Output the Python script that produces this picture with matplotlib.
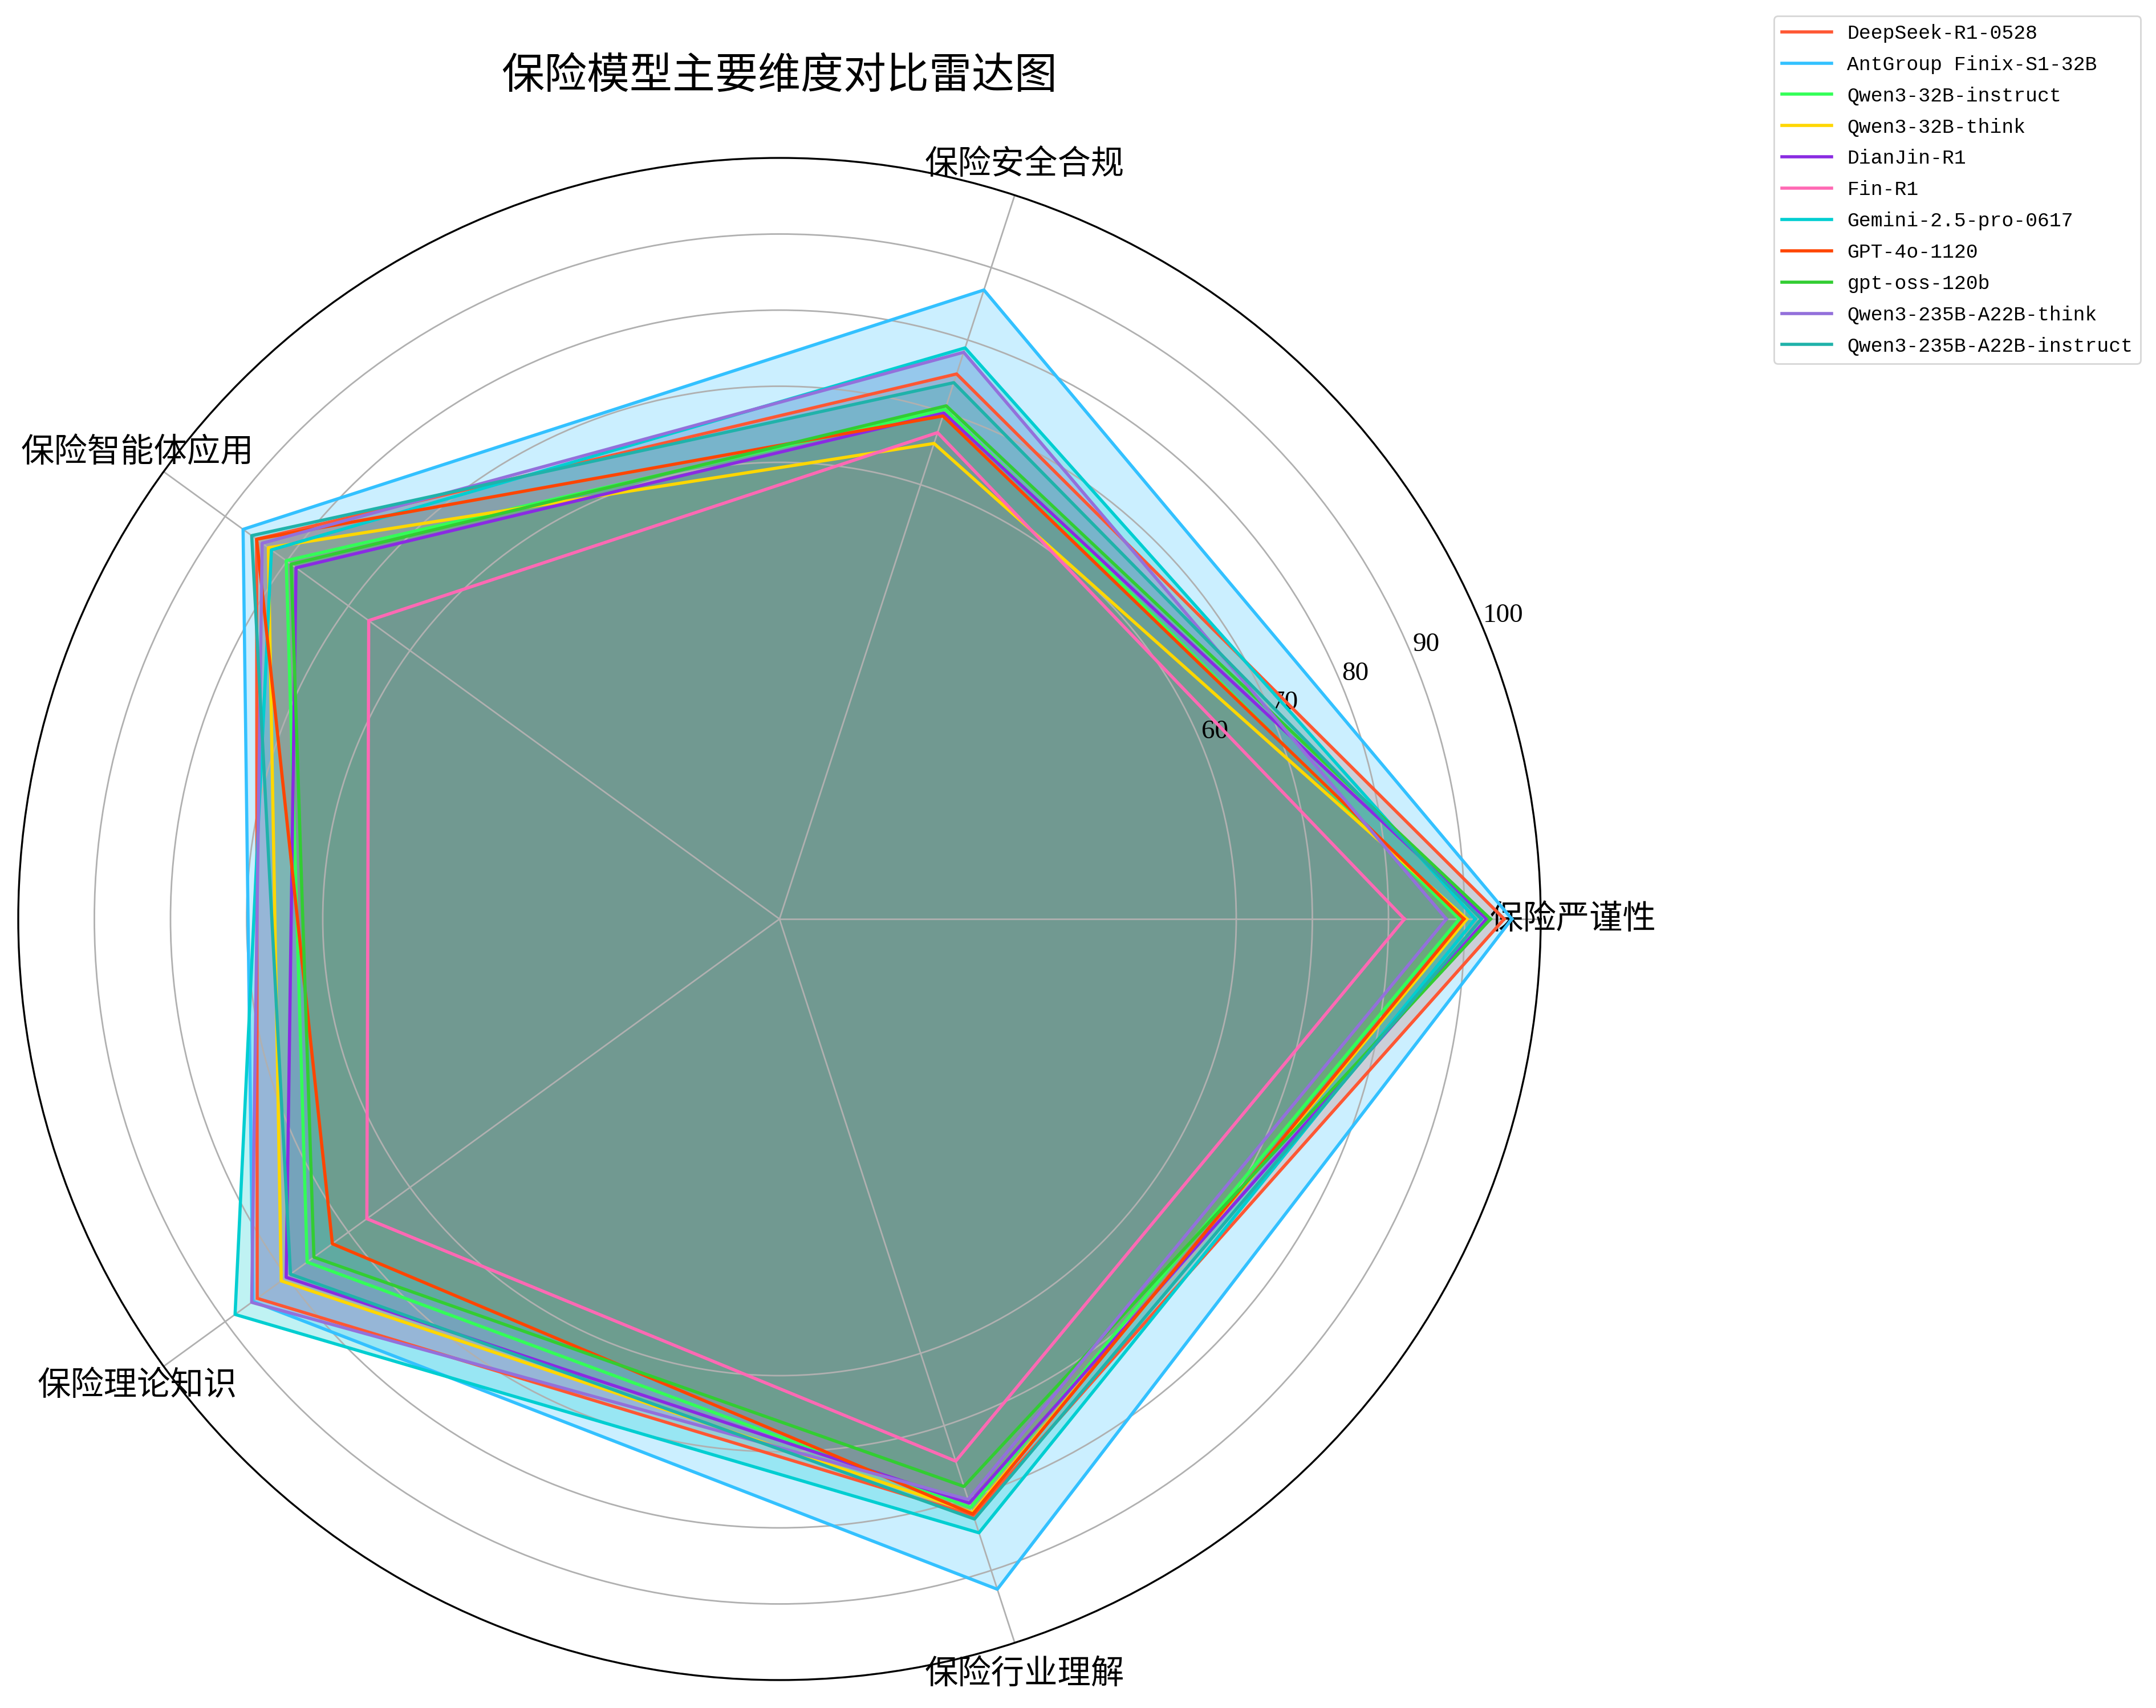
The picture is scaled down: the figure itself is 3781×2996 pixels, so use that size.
"""Radar chart: insurance model comparison across five dimensions."""
import numpy as np
import matplotlib
matplotlib.use("Agg")
import matplotlib.pyplot as plt

plt.rcParams["font.family"] = ["Noto Sans CJK SC", "DejaVu Sans"]
plt.rcParams["axes.unicode_minus"] = False

categories = ["保险严谨性", "保险安全合规", "保险智能体应用", "保险理论知识", "保险行业理解"]

models = [
    "DeepSeek-R1-0528",
    "AntGroup Finix-S1-32B",
    "Qwen3-32B-instruct",
    "Qwen3-32B-think",
    "DianJin-R1",
    "Fin-R1",
    "Gemini-2.5-pro-0617",
    "GPT-4o-1120",
    "gpt-oss-120b",
    "Qwen3-235B-A22B-think",
    "Qwen3-235B-A22B-instruct",
]

deepseek_r1 = [95.2, 75.3, 84.9, 84.8, 82.4]
finix_s1 = [96.2, 86.9, 87.1, 85.5, 92.6]
qwen3_32b_instruct = [89.3, 70.4, 80.1, 76.7, 81.3]
qwen3_32b_think = [90.3, 65.7, 83.0, 80.9, 82.0]
dianjin_r1 = [92.9, 69.9, 78.5, 80.1, 80.7]
fin_r1 = [82.1, 67.2, 66.7, 67.0, 74.9]
gemini_25_pro = [91.4, 78.9, 82.5, 88.4, 84.8]
gpt_4o = [89.9, 69.5, 84.9, 72.6, 82.2]
gpt_oss_120b = [93.4, 70.9, 79.3, 75.6, 78.4]
qwen3_235b_think = [87.6, 78.3, 84.0, 85.7, 80.2]
qwen3_235b_instruct = [92.2, 74.1, 85.7, 79.4, 82.9]

scores = [
    deepseek_r1, finix_s1, qwen3_32b_instruct, qwen3_32b_think, dianjin_r1,
    fin_r1, gemini_25_pro, gpt_4o, gpt_oss_120b, qwen3_235b_think, qwen3_235b_instruct,
]

colors = [
    "#FF5733", "#33C1FF", "#33FF57", "#FFD700", "#8A2BE2", "#FF69B4",
    "#00CED1", "#FF4500", "#32CD32", "#9370DB", "#20B2AA",
]

radial_ticks = [60, 70, 80, 90, 100]

W, H, DPI = 3781, 2996, 200
fig = plt.figure(figsize=(W / DPI, H / DPI), dpi=DPI)

# polar axes placed by pixel: centre (1367, 1612), radius 1335
cx, cy, rad = 1367, 1612, 1335
ax = fig.add_axes([(cx - rad) / W, (H - cy - rad) / H, 2 * rad / W, 2 * rad / H],
                  projection="polar")

angles = np.linspace(0, 2 * np.pi, len(categories), endpoint=False)
closed = np.concatenate([angles, angles[:1]])

for name, vals, color in zip(models, scores, colors):
    v = list(vals) + [vals[0]]
    ax.fill(closed, v, color=color, alpha=0.25)
    ax.plot(closed, v, color=color, linewidth=2.0, label=name)

ax.set_ylim(0, 100)
ax.set_yticks(radial_ticks)
ax.set_yticklabels([str(t) for t in radial_ticks], fontsize=17,
                   family=["Liberation Serif", "DejaVu Serif"])
ax.set_rlabel_position(22.5)
ax.set_xticks(angles)
ax.set_xticklabels(categories, fontsize=21)
ax.tick_params(axis="x", pad=10)
ax.grid(True, linewidth=1.0, color="#b0b0b0")
ax.spines["polar"].set_linewidth(1.2)

ax.set_title("保险模型主要维度对比雷达图", fontsize=27, y=1.0457, pad=0)

ax.legend(loc="upper left", bbox_to_anchor=(3111 / W, 1 - 28 / H),
          bbox_transform=fig.transFigure, borderaxespad=0,
          prop={"family": ["Liberation Mono", "DejaVu Sans Mono"], "size": 12.5},
          handlelength=2.5, labelspacing=0.63)

fig.savefig("out.png", dpi=DPI)
